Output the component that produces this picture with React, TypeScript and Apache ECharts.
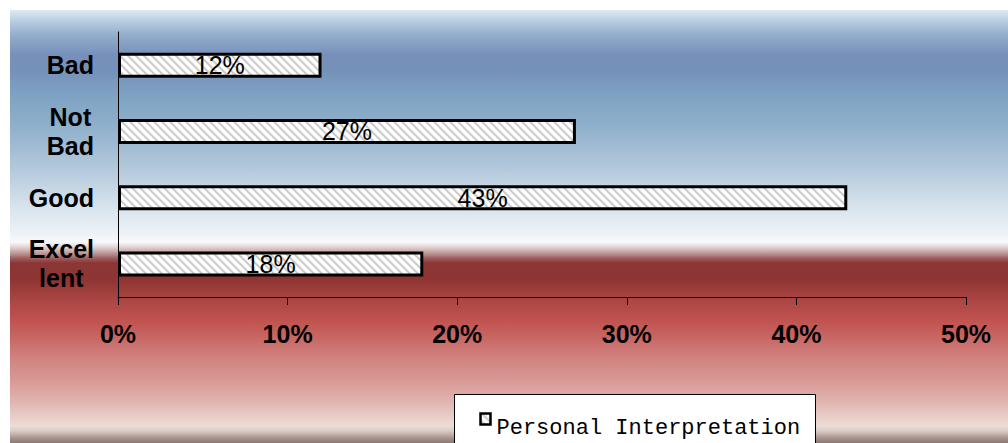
import React, { useEffect, useRef } from "react";
import * as echarts from "echarts";

// Survey ratings and their shares (percent)
const categories = ["Bad", "Not Bad", "Good", "Excellent"];
const categoryLines = ["Bad", "Not\nBad", "Good", "Excel\nlent"];
const values = [12, 27, 43, 18];
const seriesName = "Personal Interpretation";

const axisMin = 0;
const axisMax = 50;
const axisStep = 10;

const sansFont = "'Liberation Sans', Arial, sans-serif";
const monoFont = "'Liberation Mono', 'Courier New', monospace";

// Vertical background blend: pale blue -> steel blue -> white -> deep red -> pink
const bgOffsetsPx = [10, 22, 35, 55, 70, 95, 130, 170, 205, 235, 242, 246, 250, 254, 258, 263, 280, 300, 320, 340, 360, 380, 400, 415, 426, 431, 435, 439, 443];
const bgColors = [
  "#dde9f4", "#b5cbe0", "#93adcb", "#7790bb", "#7591b9", "#7ea2c3", "#92b2cc", "#b4cadc",
  "#d6e2ec", "#eef3f7", "#f8f9fb", "#e8dcdc", "#d0b8b8", "#b89090", "#a06060", "#8b3636",
  "#8f3533", "#aa4644", "#c0524f", "#c96a67", "#d18583", "#d89894", "#e0b2ae", "#e8cac5",
  "#eddcd6", "#d8ccc6", "#bcaca6", "#a08c88", "#8e7874",
];

// Soft diagonal hatch tile (stripes running top-left to bottom-right)
const HATCH = 8;
function makeHatch(): HTMLCanvasElement {
  const c = document.createElement("canvas");
  c.width = HATCH;
  c.height = HATCH;
  const ctx = c.getContext("2d")!;
  const shades: Record<number, string> = { 0: "#c6c6c6", 1: "#d2d2d2", 7: "#dedede", 2: "#ececec" };
  for (let y = 0; y < HATCH; y++) {
    for (let x = 0; x < HATCH; x++) {
      const d = (((x - y) % HATCH) + HATCH) % HATCH;
      ctx.fillStyle = shades[d] || "#ffffff";
      ctx.fillRect(x, y, 1, 1);
    }
  }
  return c;
}

export default function App() {
  const ref = useRef<HTMLDivElement>(null);

  useEffect(() => {
    if (!ref.current) return;
    const chart = echarts.init(ref.current, null, { renderer: "svg" });
    const hatch = {
      image: makeHatch(),
      repeat: "repeat",
      imageWidth: HATCH,
      imageHeight: HATCH,
    } as any;

    const bgTop = 10;
    const bgHeight = 443 - bgTop;
    const colorStops = bgOffsetsPx.map((px, i) => ({
      offset: (px - bgTop) / bgHeight,
      color: bgColors[i],
    }));

    chart.setOption({
      animation: false,
      graphic: [
        {
          type: "rect",
          z: -10,
          silent: true,
          shape: { x: 10, y: bgTop, width: 998, height: bgHeight },
          style: {
            fill: new echarts.graphic.LinearGradient(0, 0, 0, 1, colorStops),
          },
        },
        // legend box
        {
          type: "group",
          left: 454,
          top: 394,
          silent: true,
          children: [
            {
              type: "rect",
              shape: { x: 0, y: 0, width: 361, height: 60 },
              style: { fill: "#ffffff", stroke: "#000000", lineWidth: 1 },
            },
            {
              type: "rect",
              shape: { x: 26, y: 19, width: 10, height: 11 },
              style: { fill: hatch, stroke: "#000000", lineWidth: 2.5 },
            },
            {
              type: "text",
              x: 42,
              y: 34,
              style: {
                text: seriesName,
                fontFamily: monoFont,
                fontSize: 22,
                fill: "#000000",
                verticalAlign: "middle",
                align: "left",
              },
            },
          ],
        },
      ],
      grid: { left: 118, right: 42, top: 32, bottom: 146, containLabel: false },
      xAxis: {
        type: "value",
        min: axisMin,
        max: axisMax,
        interval: axisStep,
        axisLine: { show: true, lineStyle: { color: "#000", width: 1 } },
        axisTick: { show: true, length: 8, inside: false, lineStyle: { color: "#000", width: 1 } },
        splitLine: { show: false },
        axisLabel: {
          margin: 24,
          formatter: "{value}%",
          fontFamily: sansFont,
          fontSize: 25,
          fontWeight: "bold",
          color: "#000",
        },
      },
      yAxis: {
        type: "category",
        data: categories,
        inverse: true,
        axisLine: { show: true, lineStyle: { color: "#000", width: 1 } },
        axisTick: { show: false },
        splitLine: { show: false },
        axisLabel: {
          margin: 24,
          formatter: (v: string) => {
            const idx = categories.indexOf(v);
            const text = idx >= 0 ? categoryLines[idx] : v;
            return text
              .split("\n")
              .map((l) => `{c|${l}}`)
              .join("\n");
          },
          rich: {
            c: {
              align: "center",
              fontFamily: sansFont,
              fontSize: 25,
              fontWeight: "bold",
              color: "#000",
              lineHeight: 29,
            },
          },
        },
      },
      series: [
        {
          name: seriesName,
          type: "bar",
          data: values,
          barWidth: 25,
          itemStyle: {
            color: hatch,
            borderColor: "#000",
            borderWidth: 3,
          },
          label: {
            show: true,
            position: "inside",
            formatter: "{c}%",
            fontFamily: sansFont,
            fontSize: 25,
            color: "#000",
            textBorderWidth: 0,
          },
          emphasis: { disabled: true },
        },
      ],
    });

    return () => chart.dispose();
  }, []);

  return (
    <div
      ref={ref}
      style={{ position: "absolute", left: 0, top: 0, width: 1008, height: 443 }}
    />
  );
}
